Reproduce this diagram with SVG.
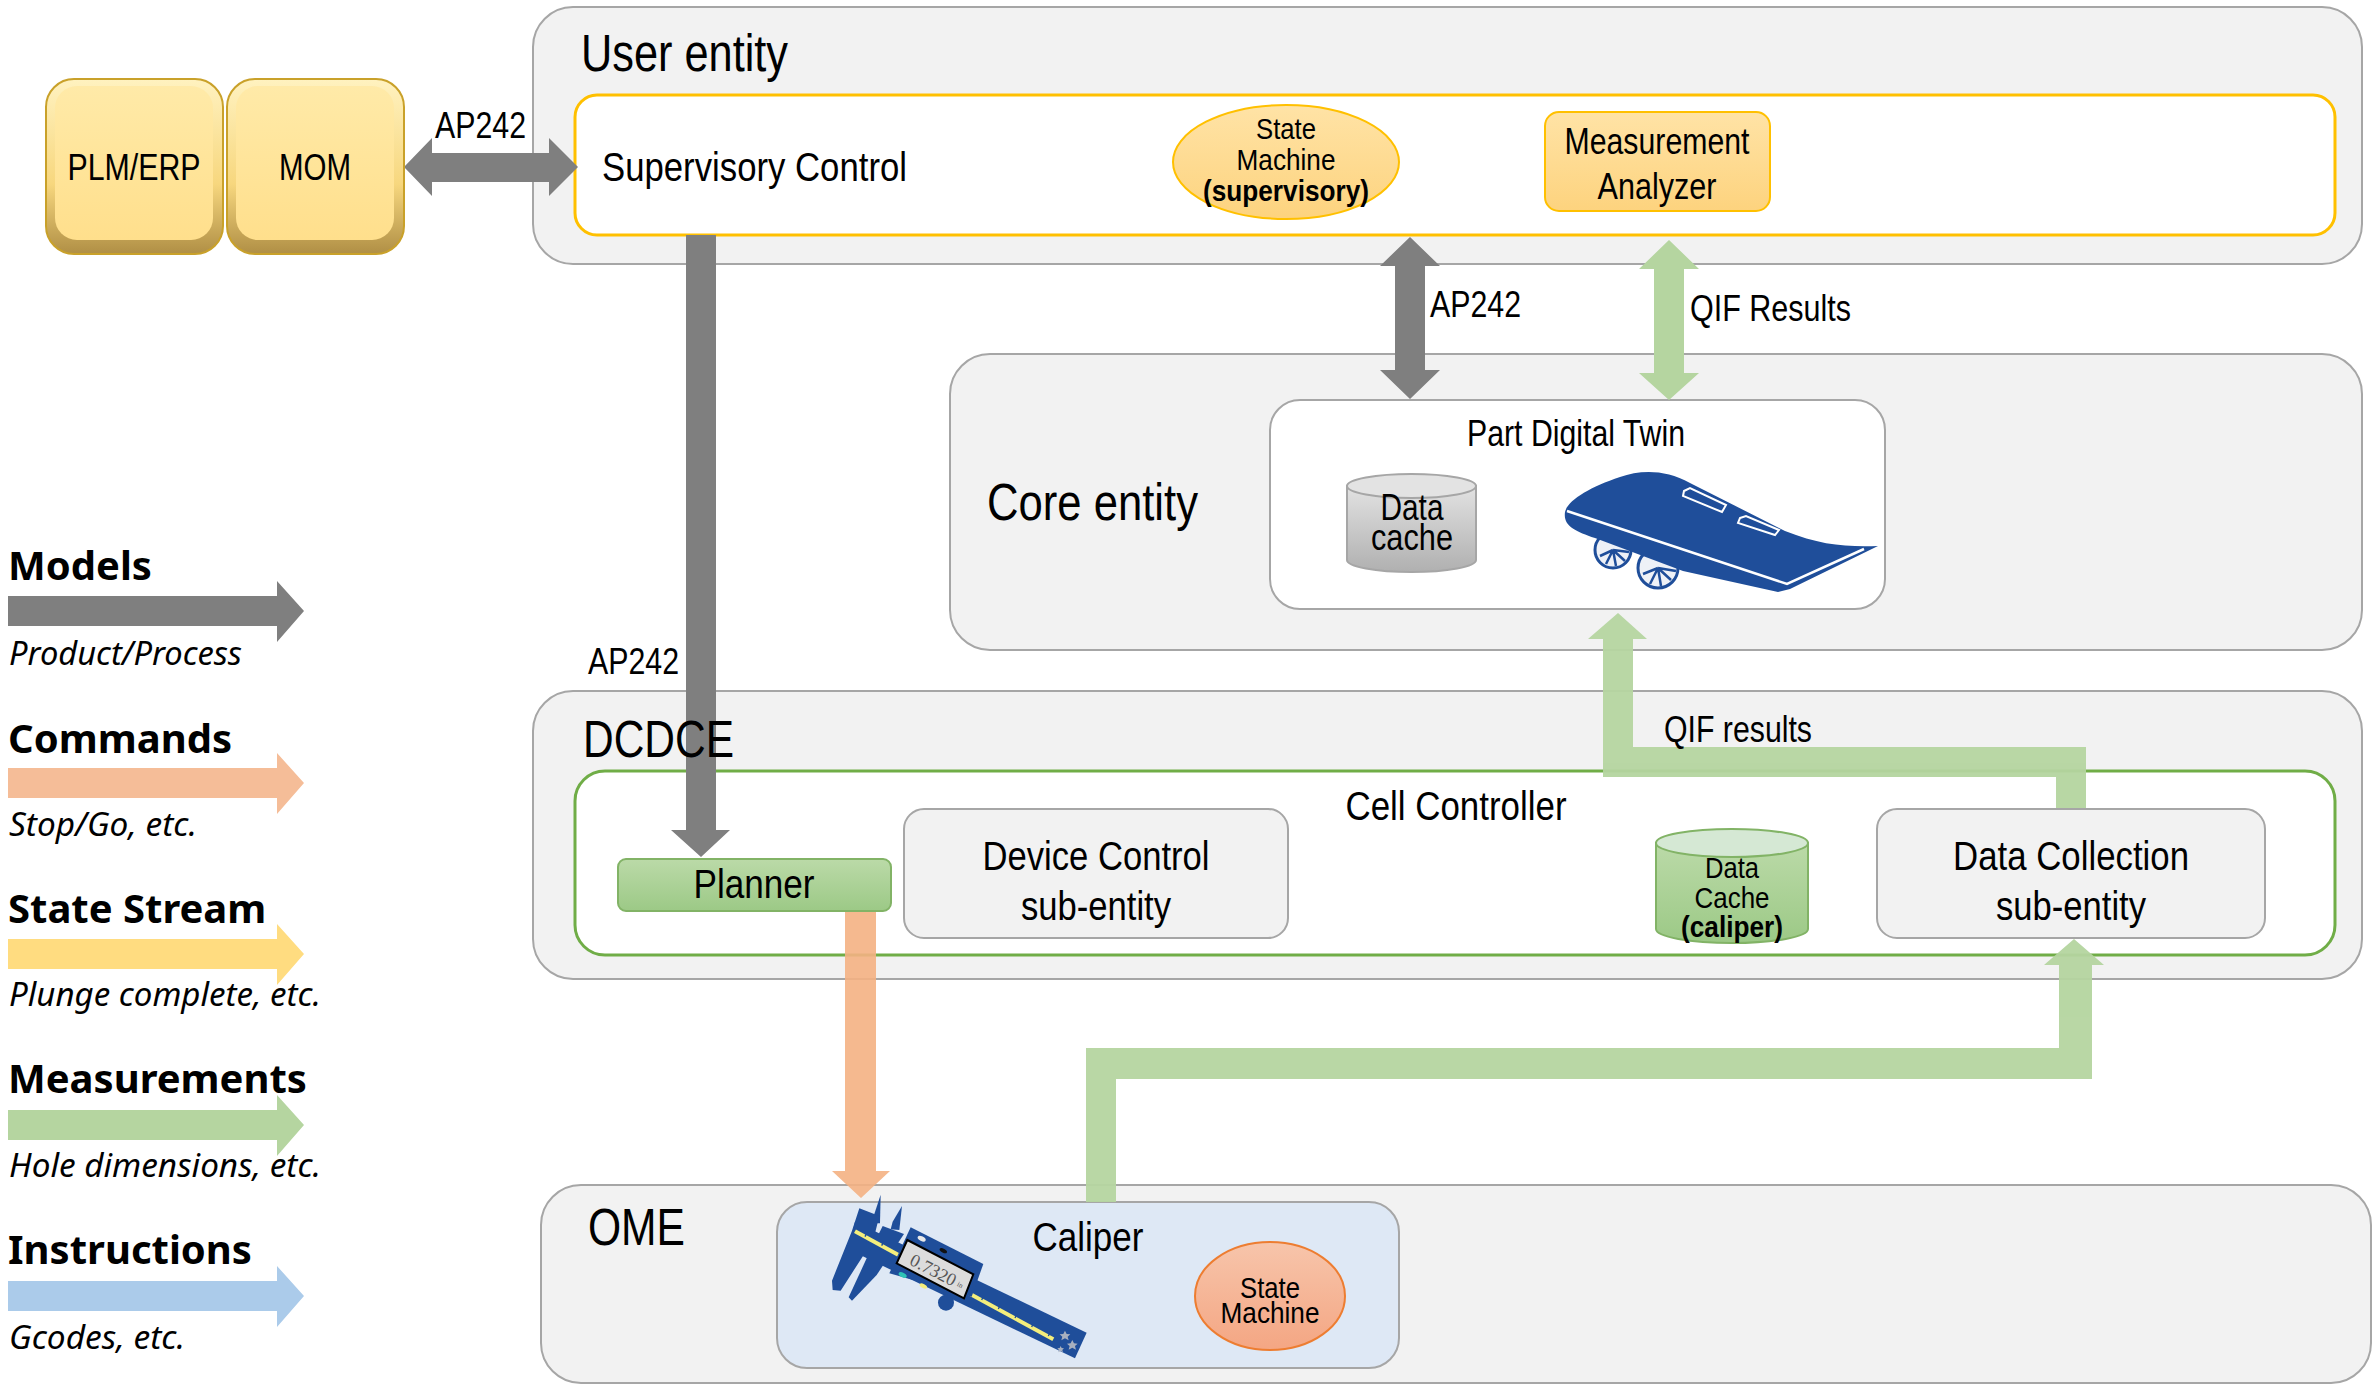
<svg xmlns="http://www.w3.org/2000/svg" width="2376" height="1386" viewBox="0 0 2376 1386">
<defs>
<linearGradient id="gGold" x1="0" y1="0" x2="0" y2="1"><stop offset="0" stop-color="#fff2c0"/><stop offset="0.6" stop-color="#f7d77e"/><stop offset="1" stop-color="#b08f45"/></linearGradient>
<linearGradient id="gGoldIn" x1="0" y1="0" x2="0" y2="1"><stop offset="0" stop-color="#ffeaa8"/><stop offset="1" stop-color="#ffdf8c"/></linearGradient>
<linearGradient id="gYel" x1="0" y1="0" x2="0" y2="1"><stop offset="0" stop-color="#ffe3a6"/><stop offset="1" stop-color="#fdd37e"/></linearGradient>
<linearGradient id="gGreen" x1="0" y1="0" x2="0" y2="1"><stop offset="0" stop-color="#bbdaa8"/><stop offset="1" stop-color="#9cc986"/></linearGradient>
<linearGradient id="gGray" x1="0" y1="0" x2="0" y2="1"><stop offset="0" stop-color="#e2e2e2"/><stop offset="1" stop-color="#b0b0b0"/></linearGradient>
<linearGradient id="gOrange" x1="0" y1="0" x2="0" y2="1"><stop offset="0" stop-color="#f7c5ab"/><stop offset="1" stop-color="#f4a683"/></linearGradient>
<style>
.t{font-family:'Liberation Sans',Arial,sans-serif;fill:#000}
.c{text-anchor:middle}
.b{font-weight:bold}
.lg{font-family:'Noto Sans','Open Sans',sans-serif;font-weight:bold;font-size:40px;fill:#000}
.li{font-family:'Noto Sans','Open Sans',sans-serif;font-style:italic;font-size:32px;fill:#000}
.cont{fill:#f2f2f2;stroke:#a6a6a6;stroke-width:2}
.sub{fill:#f2f2f2;stroke:#a6a6a6;stroke-width:2}
.grayA{fill:#7f7f7f}
.greenA{fill:#b5d5a0}
.orangeA{fill:#f4b183}
.blueI{fill:#1f4e9a}
</style>
</defs>
<rect width="2376" height="1386" fill="#ffffff"/>

<!-- containers -->
<g id="user-entity"><rect class="cont" x="533" y="7" width="1829" height="257" rx="40"/></g>
<g id="core-entity"><rect class="cont" x="950" y="354" width="1412" height="296" rx="40"/></g>
<g id="dcdce"><rect class="cont" x="533" y="691" width="1829" height="288" rx="40"/></g>
<g id="ome"><rect class="cont" x="541" y="1185" width="1830" height="198" rx="40"/></g>

<g id="supervisory-control">
<rect x="575" y="95" width="1760" height="140" rx="22" fill="#ffffff" stroke="#ffc000" stroke-width="3"/>
<text class="t" x="602" y="181" font-size="41" textLength="305" lengthAdjust="spacingAndGlyphs">Supervisory Control</text>
</g>
<g id="cell-controller">
<rect x="575" y="771" width="1760" height="184" rx="30" fill="#ffffff" stroke="#70ad47" stroke-width="3"/>
<text class="t c" x="1456" y="820" font-size="40" textLength="221" lengthAdjust="spacingAndGlyphs">Cell Controller</text>
</g>
<g id="part-digital-twin">
<rect x="1270" y="400" width="615" height="209" rx="30" fill="#ffffff" stroke="#a6a6a6" stroke-width="2"/>
<text class="t c" x="1576" y="446" font-size="37" textLength="218" lengthAdjust="spacingAndGlyphs">Part Digital Twin</text>
</g>
<g id="caliper">
<rect x="777" y="1202" width="622" height="166" rx="30" fill="#dee8f5" stroke="#a6a6a6" stroke-width="2"/>
<text class="t c" x="1088" y="1251" font-size="41" textLength="111" lengthAdjust="spacingAndGlyphs">Caliper</text>
</g>

<!-- connectors -->
<g id="connectors">
<polygon class="grayA" points="404,167 432,138 432,153 549,153 549,138 578,167 549,196 549,182 432,182 432,196"/>
<polygon class="grayA" points="686,235 716,235 716,830 730,830 701,857 671,830 686,830"/>
<polygon class="grayA" points="1410,237 1440,266 1425,266 1425,370 1440,370 1410,399 1380,370 1395,370 1395,266 1380,266"/>
<polygon class="greenA" points="1669,240 1699,269 1684,269 1684,373 1699,373 1669,400 1639,373 1654,373 1654,269 1639,269"/>
<g opacity="0.95">
<polygon class="greenA" points="2056,809 2086,809 2086,747 1633,747 1633,639 1647,639 1618,613 1588,639 1603,639 1603,777 2056,777"/>
<polygon class="greenA" points="1086,1202 1116,1202 1116,1079 2092,1079 2092,965 2104,965 2074,939 2044,965 2059,965 2059,1048 1086,1048"/>
</g>
<polygon class="orangeA" opacity="0.9" points="845,911 876,911 876,1171 890,1171 861,1198 832,1171 845,1171"/>
</g>

<!-- nodes -->
<g id="plm-erp">
<rect x="46" y="79" width="177" height="175" rx="28" fill="url(#gGold)" stroke="#c9a12a" stroke-width="2"/>
<rect x="55" y="86" width="158" height="154" rx="22" fill="url(#gGoldIn)"/>
<text class="t c" x="134" y="180" font-size="36" textLength="133" lengthAdjust="spacingAndGlyphs">PLM/ERP</text>
</g>
<g id="mom">
<rect x="227" y="79" width="177" height="175" rx="28" fill="url(#gGold)" stroke="#c9a12a" stroke-width="2"/>
<rect x="236" y="86" width="158" height="154" rx="22" fill="url(#gGoldIn)"/>
<text class="t c" x="315" y="180" font-size="36" textLength="72" lengthAdjust="spacingAndGlyphs">MOM</text>
</g>
<g id="state-machine-supervisory">
<ellipse cx="1286" cy="162" rx="113" ry="57" fill="url(#gYel)" stroke="#ffc000" stroke-width="2"/>
<text class="t c" x="1286" y="139" font-size="30" textLength="60" lengthAdjust="spacingAndGlyphs">State</text>
<text class="t c" x="1286" y="170" font-size="30" textLength="99" lengthAdjust="spacingAndGlyphs">Machine</text>
<text class="t c b" x="1286" y="201" font-size="30" textLength="166" lengthAdjust="spacingAndGlyphs">(supervisory)</text>
</g>
<g id="measurement-analyzer">
<rect x="1545" y="112" width="225" height="99" rx="14" fill="url(#gYel)" stroke="#ffc000" stroke-width="2"/>
<text class="t c" x="1657" y="154" font-size="37" textLength="185" lengthAdjust="spacingAndGlyphs">Measurement</text>
<text class="t c" x="1657" y="199" font-size="37" textLength="119" lengthAdjust="spacingAndGlyphs">Analyzer</text>
</g>
<g id="data-cache-core">
<path d="M1347,486 L1347,560 A64.5,12 0 0 0 1476,560 L1476,486 Z" fill="url(#gGray)" stroke="#a6a6a6" stroke-width="2"/>
<ellipse cx="1411.5" cy="486" rx="64.5" ry="12" fill="#e3e3e3" stroke="#a6a6a6" stroke-width="2"/>
<text class="t c" x="1412" y="520" font-size="36" textLength="63" lengthAdjust="spacingAndGlyphs">Data</text>
<text class="t c" x="1412" y="550" font-size="36" textLength="82" lengthAdjust="spacingAndGlyphs">cache</text>
</g>
<g id="car-icon">
<g stroke="#1f4e9a" stroke-width="3" fill="#eef1f7">
<circle cx="1613" cy="550" r="18"/>
<circle cx="1658" cy="568" r="20"/>
</g>
<g stroke="#1f4e9a" stroke-width="2.5">
<path d="M1613,550 L1600,556 M1613,550 L1606,564 M1613,550 L1616,566 M1613,550 L1625,561 M1613,550 L1629,552"/>
<path d="M1658,568 L1643,574 M1658,568 L1650,584 M1658,568 L1661,586 M1658,568 L1671,580 M1658,568 L1676,571"/>
</g>
<path class="blueI" d="M1565,512 C1568,500 1590,487 1620,477 C1640,470 1665,469 1690,483 L1785,531 C1820,545 1845,547 1878,546 L1790,589 L1778,592 L1683,571 L1595,538 C1575,531 1563,526 1565,512 Z"/>
<polyline points="1567,511 1787,584 1864,549" fill="none" stroke="#ffffff" stroke-width="2.5"/>
<polygon points="1684,491 1690,488 1726,505 1722,512 1683,496" fill="#1f4e9a" stroke="#ffffff" stroke-width="2"/>
<polygon points="1740,518 1746,516 1779,530 1775,535 1738,523" fill="#1f4e9a" stroke="#ffffff" stroke-width="2"/>
</g>
<g id="planner">
<rect x="618" y="859" width="273" height="52" rx="8" fill="url(#gGreen)" stroke="#82b366" stroke-width="2"/>
<text class="t c" x="754" y="898" font-size="41" textLength="121" lengthAdjust="spacingAndGlyphs">Planner</text>
</g>
<g id="device-control">
<rect class="sub" x="904" y="809" width="384" height="129" rx="20"/>
<text class="t c" x="1096" y="870" font-size="40" textLength="227" lengthAdjust="spacingAndGlyphs">Device Control</text>
<text class="t c" x="1096" y="920" font-size="40" textLength="150" lengthAdjust="spacingAndGlyphs">sub-entity</text>
</g>
<g id="data-cache-caliper">
<path d="M1656,843 L1656,929 A76,14 0 0 0 1808,929 L1808,843 Z" fill="url(#gGreen)" stroke="#82b366" stroke-width="2"/>
<ellipse cx="1732" cy="843" rx="76" ry="14" fill="#d5e8d4" stroke="#82b366" stroke-width="2"/>
<text class="t c" x="1732" y="878" font-size="30" textLength="54" lengthAdjust="spacingAndGlyphs">Data</text>
<text class="t c" x="1732" y="908" font-size="30" textLength="75" lengthAdjust="spacingAndGlyphs">Cache</text>
<text class="t c b" x="1732" y="937" font-size="30" textLength="102" lengthAdjust="spacingAndGlyphs">(caliper)</text>
</g>
<g id="data-collection">
<rect class="sub" x="1877" y="809" width="388" height="129" rx="20"/>
<text class="t c" x="2071" y="870" font-size="41" textLength="236" lengthAdjust="spacingAndGlyphs">Data Collection</text>
<text class="t c" x="2071" y="920" font-size="41" textLength="150" lengthAdjust="spacingAndGlyphs">sub-entity</text>
</g>
<g id="state-machine-caliper">
<ellipse cx="1270" cy="1296" rx="75" ry="54" fill="url(#gOrange)" stroke="#ed7d31" stroke-width="2"/>
<text class="t c" x="1270" y="1298" font-size="30" textLength="60" lengthAdjust="spacingAndGlyphs">State</text>
<text class="t c" x="1270" y="1323" font-size="30" textLength="99" lengthAdjust="spacingAndGlyphs">Machine</text>
</g>
<g id="caliper-icon" transform="translate(820,1190) scale(0.3333)">
<polygon class="blueI" points="162,75 182,14 180,100 158,100"/>
<polygon class="blueI" points="218,95 246,48 238,120 212,118"/>
<polygon class="blueI" points="105,95 800,428 765,505 85,178"/>
<polygon class="blueI" points="118,55 178,78 160,150 62,302 38,300 36,272 96,122"/>
<polygon class="blueI" points="188,108 252,132 170,255 96,332 86,322 140,205"/>
<line x1="105" y1="124" x2="700" y2="448" stroke="#f4ee7c" stroke-width="12"/>
<path d="M135,140 l6,-12 M185,167 l6,-12 M485,330 l6,-12 M535,357 l6,-12 M585,384 l6,-12 M635,411 l6,-12 M685,438 l6,-12" stroke="#1f4e9a" stroke-width="4"/>
<circle cx="378" cy="338" r="24" fill="#1f4e9a"/>
<polygon class="blueI" points="272,112 490,222 455,320 208,250"/>
<polygon points="262,150 460,253 432,325 230,220" fill="#dcdcdc" stroke="#000" stroke-width="6"/>
<text x="340" y="258" transform="rotate(27 340 240)" font-family="'Liberation Serif',serif" font-size="54" fill="#555" text-anchor="middle">0.7320</text>
<text x="420" y="292" transform="rotate(27 420 285)" font-family="'Liberation Serif',serif" font-size="22" fill="#555" text-anchor="middle">in</text>
<ellipse cx="305" cy="146" rx="13" ry="7" fill="#e8e8e8" transform="rotate(27 305 146)"/>
<ellipse cx="370" cy="182" rx="12" ry="6" fill="#111" transform="rotate(27 370 182)"/>
<ellipse cx="248" cy="255" rx="13" ry="7" fill="#2ec4b6" transform="rotate(27 248 255)"/>
<ellipse cx="310" cy="288" rx="12" ry="6" fill="#f4ee7c" transform="rotate(27 310 288)"/>
<g fill="#a8b0bf">
<polygon points="735,422 740,432 751,433 743,440 746,451 735,445 724,451 727,440 719,433 730,432"/>
<polygon points="757,450 762,460 773,461 765,468 768,479 757,473 746,479 749,468 741,461 752,460"/>
<polygon points="722,468 725,474 732,475 727,480 729,487 722,483 715,487 717,480 712,475 719,474"/>
</g>
</g>

<!-- titles and connector labels -->
<g id="titles">
<text class="t" x="581" y="71" font-size="51" textLength="207" lengthAdjust="spacingAndGlyphs">User entity</text>
<text class="t" x="987" y="520" font-size="52" textLength="211" lengthAdjust="spacingAndGlyphs">Core entity</text>
<text class="t" x="583" y="757" font-size="52" textLength="151" lengthAdjust="spacingAndGlyphs">DCDCE</text>
<text class="t" x="588" y="1245" font-size="52" textLength="97" lengthAdjust="spacingAndGlyphs">OME</text>
</g>
<g id="connector-labels">
<text class="t" x="435" y="138" font-size="37" textLength="91" lengthAdjust="spacingAndGlyphs">AP242</text>
<text class="t" x="588" y="674" font-size="37" textLength="91" lengthAdjust="spacingAndGlyphs">AP242</text>
<text class="t" x="1430" y="317" font-size="37" textLength="91" lengthAdjust="spacingAndGlyphs">AP242</text>
<text class="t" x="1690" y="321" font-size="37" textLength="161" lengthAdjust="spacingAndGlyphs">QIF Results</text>
<text class="t" x="1664" y="742" font-size="37" textLength="148" lengthAdjust="spacingAndGlyphs">QIF results</text>
</g>

<!-- legend -->
<g id="legend">
<text class="lg" x="8" y="580">Models</text>
<polygon class="grayA" points="8,596 277,596 277,581 304,611 277,642 277,626 8,626"/>
<text class="li" x="9" y="665" textLength="233" lengthAdjust="spacingAndGlyphs">Product/Process</text>
<text class="lg" x="8" y="753">Commands</text>
<polygon fill="#f5bd98" points="8,768 277,768 277,753 304,783 277,814 277,798 8,798"/>
<text class="li" x="9" y="836" textLength="188" lengthAdjust="spacingAndGlyphs">Stop/Go, etc.</text>
<text class="lg" x="8" y="923">State Stream</text>
<polygon fill="#ffdc80" points="8,939 277,939 277,924 304,954 277,985 277,969 8,969"/>
<text class="li" x="9" y="1006" textLength="312" lengthAdjust="spacingAndGlyphs">Plunge complete, etc.</text>
<text class="lg" x="8" y="1093">Measurements</text>
<polygon class="greenA" points="8,1110 277,1110 277,1095 304,1125 277,1156 277,1140 8,1140"/>
<text class="li" x="9" y="1177" textLength="312" lengthAdjust="spacingAndGlyphs">Hole dimensions, etc.</text>
<text class="lg" x="8" y="1264">Instructions</text>
<polygon fill="#abcbea" points="8,1281 277,1281 277,1266 304,1296 277,1327 277,1311 8,1311"/>
<text class="li" x="9" y="1349" textLength="176" lengthAdjust="spacingAndGlyphs">Gcodes, etc.</text>
</g>
</svg>
